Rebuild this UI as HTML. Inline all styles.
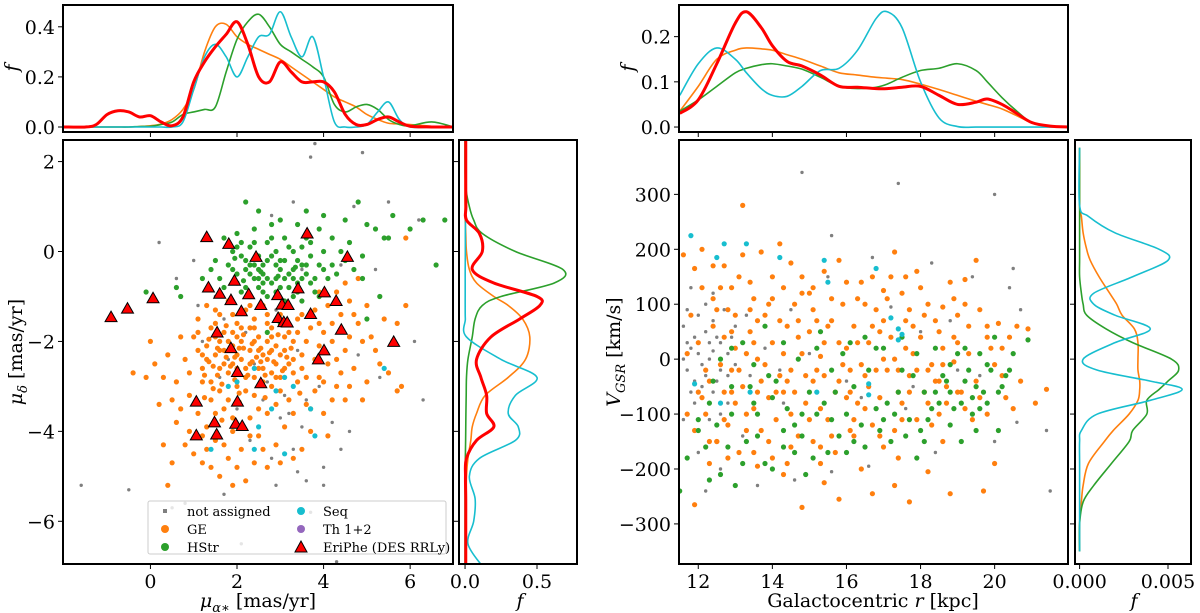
<!DOCTYPE html>
<html><head><meta charset="utf-8">
<style>
html,body{margin:0;padding:0;background:#fff;}
svg{display:block;font-family:"DejaVu Serif","Liberation Serif",serif;}
</style></head>
<body>
<svg id="chart" width="1200" height="613" viewBox="0 0 1200 613" xmlns="http://www.w3.org/2000/svg"></svg>
<script>
// ---------- DATA ----------
const kdeLXgrid = [-2,-1.5,-1.25,-1,-0.75,-0.5,-0.25,0,0.25,0.5,0.75,1,1.25,1.5,1.75,2,2.25,2.5,2.75,3,3.25,3.5,3.75,4,4.25,4.5,4.75,5,5.25,5.5,5.75,6,6.5,7];
const kdeLXred   = [0,0,0.01,0.05,0.065,0.06,0.04,0.045,0.02,0.005,0.04,0.18,0.26,0.32,0.37,0.42,0.33,0.2,0.18,0.26,0.22,0.18,0.18,0.18,0.14,0.05,0.01,0.01,0.03,0.04,0.02,0.003,0,0];
const kdeLXorange= [0,0,0,0,0,0,0.002,0.005,0.012,0.03,0.07,0.15,0.3,0.4,0.41,0.36,0.33,0.31,0.29,0.27,0.24,0.21,0.18,0.15,0.12,0.1,0.08,0.05,0.03,0.015,0.012,0.01,0.003,0];
const kdeLXgreen = [0,0,0,0,0,0,0.002,0.003,0.01,0.02,0.05,0.06,0.07,0.08,0.22,0.35,0.42,0.45,0.4,0.33,0.3,0.27,0.24,0.2,0.09,0.06,0.08,0.09,0.07,0.03,0.01,0.005,0.02,0];
const kdeLXcyan  = [0,0,0,0,0,0,0,0,0,0,0.02,0.15,0.28,0.33,0.28,0.2,0.28,0.36,0.37,0.46,0.36,0.28,0.36,0.2,0.02,0,0,0.01,0.06,0.1,0.03,0,0,0];
const kdeLYgrid  = [2.5,1.5,1.0,0.7,0.4,0.0,-0.4,-0.7,-1.0,-1.2,-1.5,-1.9,-2.4,-2.8,-3.2,-3.6,-3.9,-4.2,-4.6,-5.0,-5.5,-6.0,-6.5,-7.0];
const kdeLYred   = [0.005,0.005,0.006,0.01,0.1,0.12,0.05,0.2,0.5,0.52,0.38,0.18,0.08,0.11,0.15,0.15,0.2,0.08,0.01,0.003,0.005,0.005,0.005,0.005];
const kdeLYgreen = [0,0.003,0.03,0.06,0.12,0.35,0.68,0.62,0.25,0.12,0.07,0.05,0.02,0.01,0.008,0.006,0.005,0.004,0.002,0,0,0,0,0];
const kdeLYorange= [0,0,0,0.001,0.005,0.01,0.03,0.08,0.2,0.3,0.4,0.45,0.42,0.3,0.14,0.08,0.05,0.04,0.02,0.01,0.008,0.005,0.005,0.005];
const kdeLYcyan  = [0.003,0.003,0.003,0.003,0.002,0.002,0.001,0.001,0.001,0.001,0.002,0.01,0.25,0.5,0.35,0.3,0.37,0.35,0.1,0.03,0.07,0.06,0.02,0.12];
const kdeRXgrid  = [11.5,12,12.5,13,13.3,13.7,14,14.4,14.8,15.3,15.8,16.3,16.8,17.1,17.5,18,18.5,19,19.5,19.8,20.2,20.6,21,21.5,22];
const kdeRXred   = [0.03,0.06,0.14,0.23,0.255,0.22,0.18,0.145,0.135,0.115,0.09,0.088,0.085,0.085,0.088,0.09,0.07,0.05,0.055,0.062,0.05,0.03,0.01,0.002,0];
const kdeRXorange= [0.035,0.09,0.15,0.17,0.175,0.173,0.17,0.16,0.15,0.135,0.12,0.115,0.11,0.108,0.105,0.095,0.083,0.07,0.057,0.05,0.04,0.025,0.01,0.002,0];
const kdeRXgreen = [0.035,0.06,0.09,0.12,0.13,0.138,0.14,0.135,0.128,0.11,0.09,0.085,0.088,0.095,0.11,0.125,0.13,0.14,0.125,0.1,0.065,0.035,0.01,0.002,0];
const kdeRXcyan  = [0.07,0.14,0.175,0.15,0.12,0.085,0.07,0.068,0.09,0.125,0.13,0.17,0.24,0.255,0.22,0.1,0.02,0.001,0,0,0,0,0,0,0];
const kdeRYgrid  = [385,280,260,230,200,180,150,120,100,80,55,30,0,-20,-40,-55,-75,-100,-130,-150,-190,-230,-260,-300,-350];
const kdeRYcyan  = [0,0,0.0005,0.002,0.0045,0.005,0.003,0.0008,0.0008,0.002,0.004,0.002,0.0002,0.001,0.004,0.0058,0.004,0.001,0.0001,0,0,0,0,0,0];
const kdeRYorange= [0,0,0.0001,0.0002,0.0004,0.0006,0.0011,0.0017,0.0021,0.0024,0.0031,0.0033,0.0033,0.0033,0.0034,0.0034,0.0033,0.0028,0.0019,0.0014,0.0005,0.0002,0.0001,0,0];
const kdeRYgreen = [0,0,0,0,0,0,0,0.0001,0.0002,0.0004,0.0015,0.003,0.0052,0.0056,0.005,0.0045,0.0038,0.0038,0.003,0.0028,0.0018,0.0008,0.0002,0,0];

const leftOrange = [[1.0,-1.9],[1.3,-2.1],[1.5,-2.3],[1.7,-1.8],[1.9,-2.5],[2.1,-2.0],[2.3,-2.2],[2.5,-1.9],[2.7,-2.4],[2.9,-2.1],[3.1,-2.6],[3.3,-2.0],[3.5,-2.3],[3.7,-1.7],[3.9,-2.8],[4.1,-2.5],[4.3,-3.0],[4.5,-2.2],[4.8,-1.6],[5.0,-2.9],
[1.2,-2.6],[1.4,-2.9],[1.6,-3.1],[1.8,-2.7],[2.0,-3.0],[2.2,-2.8],[2.4,-3.2],[2.6,-2.6],[2.8,-3.0],[3.0,-2.8],[3.2,-3.3],[3.4,-2.9],[3.6,-3.4],[3.8,-3.1],[4.0,-3.6],[0.8,-2.4],[0.6,-2.9],[0.9,-3.2],[1.1,-3.6],[1.3,-3.9],
[1.5,-4.2],[1.7,-3.5],[1.9,-4.0],[2.1,-4.4],[2.3,-3.7],[2.5,-4.1],[2.7,-3.6],[2.9,-4.3],[3.1,-3.9],[3.3,-4.6],[1.0,-4.5],[1.4,-4.8],[1.8,-4.6],[2.2,-5.1],[0.5,-4.7],[0.4,-5.2],[0.6,-3.8],[0.3,-4.3],[0.2,-3.4],[-0.4,-2.7],
[-0.1,-2.8],[0.0,-2.0],[0.4,-2.3],[0.7,-1.9],[1.1,-1.5],[1.3,-1.2],[1.6,-1.4],[1.8,-1.1],[2.0,-1.6],[2.2,-1.3],[2.4,-1.5],[2.6,-1.2],[2.8,-1.7],[3.0,-1.4],[3.2,-1.8],[3.4,-1.5],[3.6,-2.0],[3.8,-1.3],[4.0,-1.8],[4.2,-2.0],
[4.4,-1.4],[4.6,-1.1],[4.8,-0.6],[4.7,-2.6],[4.9,-3.3],[5.2,-2.2],[5.4,-1.5],[5.5,-2.7],[5.7,-3.1],[5.9,-1.2],[5.9,0.3],[5.7,-1.6],[5.0,-1.2],[4.5,-0.7],[3.9,-0.9],[1.5,-1.9],[1.7,-2.2],[1.9,-1.8],[2.1,-2.4],[2.3,-1.7],
[2.5,-2.6],[2.7,-2.0],[2.9,-2.5],[3.1,-2.2],[3.3,-2.7],[1.2,-2.3],[1.4,-1.7],[1.6,-2.6],[1.8,-2.0],[2.0,-2.3],[2.2,-2.6],[2.4,-2.0],[2.6,-2.3],[2.8,-2.7],[3.0,-2.3],[2.0,-1.9],[2.4,-2.8],[1.6,-2.0],[2.8,-1.9],[3.5,-2.6],
[3.9,-2.1],[4.3,-2.4],[3.7,-3.5],[4.2,-3.3],[4.6,-3.0],[1.2,-4.1],[2.6,-4.4],[3.0,-4.7],[2.4,-4.7],[1.9,-5.2],[1.35,-2.45],[1.75,-2.35],[2.15,-2.15],[2.55,-2.15],[1.55,-2.75],[1.95,-2.85],[2.35,-2.45],[1.25,-3.25],[1.65,-3.75],[2.05,-3.35],
[1.1,-1.8],[1.3,-2.4],[1.5,-1.6],[1.7,-2.5],[1.9,-2.1],[2.1,-1.7],[2.3,-2.5],[2.5,-2.2],[2.7,-1.6],[2.9,-2.8],[3.1,-1.9],[3.3,-2.4],[1.2,-2.9],[1.4,-3.3],[1.6,-2.2],[1.8,-3.3],[2.0,-2.6],[2.2,-3.1],[2.4,-1.7],[2.6,-2.9],[2.8,-2.2],[3.0,-3.1],[3.2,-2.5],[3.4,-1.8],[3.6,-2.8],[3.8,-2.4],[4.0,-2.9],[4.2,-1.6],[4.4,-2.7],[4.6,-1.9],
[0.9,-2.7],[0.7,-3.5],[0.9,-4.0],[1.3,-4.4],[1.7,-4.3],[2.1,-3.9],[2.5,-3.5],[2.9,-3.4],[3.3,-3.6],[1.5,-3.6],[1.9,-3.7],[2.3,-4.1],[1.1,-2.2],[1.5,-1.3],[1.9,-1.4],[2.3,-1.2],[2.7,-1.4],[3.1,-1.6],[3.5,-1.4],[3.9,-1.6],
[4.1,-1.2],[4.3,-0.9],[4.7,-1.4],[5.1,-1.9],[5.3,-2.5],[5.6,-2.0],[5.8,-3.0],[4.9,-2.0],[4.5,-3.3],[4.1,-4.1],[3.7,-4.0],[3.5,-4.4],[2.7,-4.8],[2.0,-4.8],[1.6,-5.0],[1.2,-4.7],[0.8,-4.3],[0.5,-3.3],[0.3,-2.8],[0.1,-2.5],
[1.35,-1.95],[1.55,-2.15],[1.75,-1.65],[1.95,-2.35],[2.15,-1.85],[2.35,-2.05],[2.55,-2.45],[2.75,-2.25],[2.95,-1.85],[3.15,-2.35],[1.45,-2.55],[1.65,-2.95],[1.85,-2.55],[2.05,-2.15],[2.25,-2.75],[2.45,-2.35],[2.65,-2.75],[2.85,-2.45],[3.05,-2.65],[3.25,-2.15],[1.25,-2.75],[2.05,-3.15],[2.65,-3.25],[1.45,-3.05],[3.45,-3.15]];
const leftGreen = [[1.8,-0.3],[2.0,-0.5],[2.2,-0.2],[2.4,-0.6],[2.6,-0.3],[2.8,-0.7],[3.0,-0.4],[3.2,-0.8],[3.4,-0.2],[3.6,-0.5],[3.8,-0.9],[2.1,-0.9],[2.3,-1.0],[2.5,-0.8],[2.7,-1.0],[2.9,-0.9],[3.1,-1.1],[3.3,-1.0],[3.5,-1.1],[3.7,-0.7],
[1.9,0.0],[2.1,0.2],[2.3,0.1],[2.5,-0.1],[2.7,0.2],[2.9,0.0],[3.1,0.3],[3.3,0.0],[3.5,0.1],[3.7,0.2],[4.0,0.0],[4.2,-0.3],[4.4,0.0],[2.0,0.4],[2.4,0.5],[2.8,0.6],[3.4,0.6],[4.0,0.8],[4.5,0.7],[4.8,1.1],
[5.0,0.6],[5.2,0.5],[5.4,0.3],[6.3,0.7],[6.8,0.7],[6.6,-0.3],[5.3,-1.0],[4.9,-0.1],[4.7,-0.4],[4.6,0.2],[1.6,-0.6],[1.5,-0.2],[1.2,-0.6],[0.6,-0.8],[-0.1,-0.9],[0.7,-1.0],[2.2,1.1],[3.6,0.9],[4.1,-0.6],[3.9,-0.3],
[2.6,-0.5],[3.0,-0.2],[2.4,-0.3],[3.2,-0.5],[2.8,-0.1],[2.0,-0.7],[3.4,-0.7],[2.2,-0.4],[3.6,-0.3],[2.6,-0.9],[5.0,-1.5],[3.0,-1.6],[2.7,-1.8],[4.9,-0.6],[5.5,0.3],[2.15,-0.65],[2.55,-0.45],[2.95,-0.55],[3.35,-0.35],[1.95,-0.15],
[1.9,-0.4],[2.1,-0.1],[2.3,-0.5],[2.5,-0.4],[2.7,-0.6],[2.9,-0.3],[3.1,-0.6],[3.3,-0.4],[3.5,-0.6],[3.7,-0.1],[2.2,-0.8],[2.6,-0.7],[3.0,-0.8],[3.4,-0.9],[3.8,-0.6],[4.0,-0.4],[4.3,-0.5],[2.0,0.1],[2.4,0.2],[2.8,0.3],
[3.2,0.1],[3.6,0.3],[4.2,0.3],[4.5,-0.2],[1.7,-0.8],[1.4,-0.4],[2.5,0.9],[3.0,0.7],[3.9,0.5],[5.6,0.8],[6.0,0.5],[1.7,0.3],[2.3,-0.3],[2.7,-0.2],[3.1,-0.2],[3.5,-0.3],[2.9,-0.6],[2.5,-0.6],[3.3,-0.6],[3.9,-1.0]];
const leftGray = [[3.8,2.4],[3.7,2.1],[4.9,2.2],[0.2,0.2],[3.3,1.1],[4.7,1.0],[5.5,1.1],[6.2,0.7],[1.0,-0.2],[0.6,-0.6],[2.8,0.8],[1.7,-1.5],[1.2,-2.0],[1.0,-1.9],[2.4,-2.5],[2.6,-3.3],[3.2,-3.6],[3.6,-3.3],[3.0,-3.7],[4.2,-3.8],
[4.6,-4.0],[2.3,-4.2],[2.8,-4.6],[3.3,-4.4],[4.0,-4.8],[3.6,-5.1],[2.9,-5.2],[4.0,-5.2],[3.7,-5.8],[1.7,-5.4],[-1.6,-5.2],[-0.5,-5.3],[0.8,-5.6],[0.5,-5.7],[2.1,-6.5],[4.3,-6.9],[6.3,-3.3],[6.1,-2.0],[5.3,-2.8],[4.8,-2.3],
[3.4,-2.2],[2.2,-1.8],[1.6,-2.8],[2.0,-3.5],[3.5,-0.4],[2.9,-1.3],[4.4,-0.3],[1.5,-1.0],[1.1,-1.2],[5.2,-0.4],[2.7,-2.9],[3.1,-3.2],[3.5,-3.9],[2.5,-3.0],[1.8,-2.4],[3.9,-3.0],[4.4,-4.4],[3.4,-4.9]];
const leftCyan = [[2.4,-2.6],[3.1,-2.8],[2.9,-3.1],[3.3,-3.0],[2.8,-3.5],[3.7,-3.5],[3.8,-4.1],[2.4,-4.4],[3.1,-4.5],[2.5,-3.9],[5.4,-2.6],[1.4,-4.4],[1.8,-3.0],[2.0,-2.9],[3.2,-7.0]];
const eriPhe = [[-0.91,-1.46],[-0.53,-1.27],[0.06,-1.04],[1.30,0.32],[1.81,0.17],[2.44,-0.12],[1.94,-0.65],[1.34,-0.80],[1.60,-0.94],[1.86,-1.08],[2.27,-0.95],[2.10,-1.33],[2.55,-1.19],[1.54,-1.80],[1.86,-2.15],[2.01,-2.68],[2.55,-2.93],[1.06,-3.34],[2.01,-3.34],[1.48,-3.80],
[1.53,-4.07],[1.06,-4.09],[1.97,-3.83],[2.12,-3.88],[3.62,0.40],[4.55,-0.12],[3.41,-0.82],[4.02,-0.91],[4.29,-1.10],[2.94,-0.97],[3.04,-1.18],[3.18,-1.19],[3.70,-1.39],[2.95,-1.48],[3.08,-1.57],[3.16,-1.58],[4.41,-1.74],[4.01,-2.20],[3.88,-2.40],[5.62,-2.01]];

const rightOrange = [[11.6,190],[11.9,165],[12.1,200],[12.4,110],[12.7,170],[13.0,80],[13.2,280],[13.4,140],[13.7,195],[14.0,150],[14.2,210],[14.5,175],[14.8,120],[15.1,90],[15.4,160],[15.8,180],[16.0,140],[16.3,110],[16.7,150],[17.0,125],
[17.3,195],[17.6,150],[17.9,160],[18.2,100],[18.6,95],[19.0,80],[19.2,145],[19.5,180],[19.8,60],[20.1,65],[20.4,40],[20.9,55],[21.4,-55],[21.1,-80],[20.7,-40],[20.5,-90],[20.0,-190],[19.7,-240],[18.8,-245],[18.2,-205],
[17.7,-260],[17.3,-230],[16.7,-245],[15.8,-255],[15.4,-225],[14.8,-270],[14.3,-210],[13.6,-195],[12.3,-190],[11.9,-265],[11.7,-100],[11.9,-130],[12.1,-70],[12.3,-40],[12.5,-150],[12.7,-110],[12.9,-60],[13.1,-20],[13.3,-130],[13.5,-90],
[13.7,-40],[13.9,-150],[14.1,-110],[14.3,-60],[14.5,-20],[14.7,-140],[14.9,-80],[15.1,-40],[15.3,-160],[15.5,-110],[15.7,-60],[15.9,-10],[16.1,-130],[16.3,-80],[16.5,-30],[16.7,-120],[16.9,-70],[17.1,-20],[17.3,-130],[17.5,-80],
[17.7,-30],[17.9,-110],[18.1,-60],[18.3,-10],[18.5,-100],[18.7,-50],[18.9,-5],[19.2,-90],[19.5,-40],[19.8,-100],[12.0,30],[12.4,60],[12.6,-10],[12.8,90],[13.0,20],[13.2,-50],[13.4,50],[13.6,0],[13.8,80],[14.0,30],
[14.2,-30],[14.4,60],[14.6,100],[14.8,10],[15.0,50],[15.2,-20],[15.4,30],[15.6,70],[15.8,-40],[16.0,20],[16.2,60],[16.4,-10],[16.6,30],[16.8,90],[17.0,0],[17.2,40],[17.4,-20],[17.6,70],[17.8,10],[18.0,40],
[18.2,-20],[18.4,70],[18.6,20],[18.9,40],[19.3,10],[19.6,90],[20.0,-10],[20.3,-70],[12.9,130],[13.5,110],[14.3,130],[15.0,120],[16.5,100],[17.5,120],[13.1,-170],[14.0,-180],[15.1,-150],[16.2,-140],[17.0,-160],[12.5,-150],
[12.2,-100],[12.9,-20],[13.3,10],[13.9,-70],[14.5,-100],[15.3,5],[16.1,-60],[16.9,50],[17.7,-60],[18.5,-40],[12.7,40],[13.6,70],[14.7,40],[15.6,-140],[19.0,-60],
[11.8,80],[12.1,130],[12.3,-150],[12.5,90],[12.7,-60],[12.9,50],[13.1,150],[13.3,-100],[13.5,30],[13.7,-130],[13.9,100],[14.1,-60],[14.3,10],[14.5,-160],[14.7,70],[14.9,-30],[15.1,130],[15.3,-90],[15.5,60],[15.7,-170],
[15.9,100],[16.1,-20],[16.3,30],[16.5,-90],[16.7,60],[16.9,-140],[17.1,110],[17.3,0],[17.5,-110],[17.7,90],[17.9,-20],[18.1,80],[18.3,-120],[18.5,50],[18.7,-80],[18.9,110],[19.1,-60],[19.3,60],[19.6,-70],[19.9,20],
[20.2,-30],[20.6,60],[11.7,10],[12.0,-60],[12.2,-20],[12.6,130],[13.0,-80],[13.4,90],[13.8,-10],[14.2,70],[14.6,-60],[15.0,-110],[15.4,-30],[15.8,30],[16.2,-110],[16.6,-50],[17.0,70],[17.4,-60],[17.8,60],[18.2,-80],
[18.6,-10],[19.0,30],[19.4,-110],[19.8,40],[20.2,20],[12.8,-120],[13.6,-60],[14.4,-40],[15.2,70],[16.0,-70],[16.8,-20],[17.6,20],[18.4,-40],[19.2,100],[12.4,170],[13.2,190],[14.0,110],[14.8,150],[15.6,110],[16.4,140],
[17.2,150],[18.0,130],[18.8,140],[13.5,-170],[14.4,-190],[15.3,-190],[16.4,-200],[17.4,-180],[18.6,-150],[12.8,-180]];
const rightGreen = [[11.5,-240],[11.7,-180],[12.0,-130],[12.3,-220],[12.6,-210],[12.8,-160],[13.0,-230],[13.3,-150],[13.5,-80],[13.8,-190],[14.0,-200],[14.3,-130],[14.6,-170],[14.9,-210],[15.2,-100],[15.5,-170],[15.8,-140],[16.2,-150],[16.5,-160],[16.9,-130],
[17.2,-150],[17.6,-140],[17.9,-180],[18.2,-110],[18.5,-80],[18.8,-60],[19.1,-150],[19.4,-100],[19.6,-90],[20.1,-130],[20.3,-30],[20.5,10],[20.9,35],[20.0,40],[19.8,-10],[19.5,-50],[19.3,-20],[19.0,10],[18.7,-40],[18.4,20],
[18.1,-60],[17.8,-30],[17.5,40],[17.1,-80],[16.8,20],[16.5,40],[16.2,-50],[15.9,10],[15.6,-20],[15.3,50],[15.0,-60],[14.7,0],[14.4,-90],[14.1,-40],[13.8,60],[13.5,-10],[13.2,30],[12.9,-50],[12.6,0],[12.3,-80],
[12.0,-110],[19.7,-60],[19.9,-20],[19.2,-40],[18.9,-90],[18.6,-30],[20.2,-50],[19.4,-70],[13.6,-100],[14.6,-120],[16.0,-100],[17.0,-110],[18.0,-130],[15.4,-80],[17.4,-60],
[12.2,-160],[12.5,-120],[12.9,-100],[13.2,-190],[13.6,-140],[14.0,-70],[14.3,-160],[14.8,-140],[15.1,-180],[15.6,-110],[16.0,-170],[16.4,-120],[16.8,-90],[17.3,-100],[17.7,-110],[18.1,-150],[18.4,-60],[18.8,-120],[19.1,-80],[19.5,-130],
[19.8,-80],[20.1,-60],[20.4,-20],[19.6,10],[19.2,20],[18.8,-10],[18.3,-90],[17.9,10],[17.5,-20],[17.0,20],[16.6,-20],[16.1,30],[15.7,-60],[15.2,20],[14.8,-100],[14.3,30],[13.9,-30],[13.4,-50],[12.9,20],[12.4,-40]];
const rightGray = [[11.6,60],[11.8,20],[11.9,-40],[12.0,80],[12.1,-10],[12.2,50],[12.3,0],[12.4,-60],[12.5,40],[12.6,-20],[12.7,90],[11.7,-20],[11.8,130],[12.0,-170],[12.2,-240],[12.4,120],[12.6,-100],[12.8,10],[13.0,60],[13.2,-140],
[11.6,-110],[11.9,40],[12.3,30],[12.9,-60],[13.4,-30],[14.8,340],[17.4,320],[20.0,300],[15.6,225],[16.7,185],[18.3,175],[20.5,165],[20.4,130],[21.4,-130],[21.5,-240],[20.6,-115],[20.0,-150],[18.4,-170],[16.6,-195],[15.6,-205],
[14.5,90],[15.5,150],[17.2,95],[18.0,50],[19.4,150],[20.7,90],[14.2,-20],[16.0,-40],[17.8,-50],[19.0,-20],[13.6,-230],[14.6,-220],[12.6,-200],[11.7,30],[12.1,-50],[12.4,15],[12.8,-30],[12.2,100],[11.9,-80],
[11.6,0],[11.8,-60],[12.0,10],[12.2,-30],[12.4,70],[12.6,30],[12.8,-80],[13.0,-10],[11.7,90],[12.3,-110],[12.5,-40],[12.9,40],[13.3,80],[13.8,20],[14.3,-80],[15.0,10],[16.4,-70],[17.6,-90],[18.8,70],[19.6,-30]];
const rightCyan = [[11.8,225],[12.5,185],[12.7,210],[13.3,210],[14.2,185],[15.4,180],[15.5,140],[16.8,165],[17.2,75],[17.4,55],[17.5,45],[17.4,35],[16.6,-45],[16.6,-65],[11.9,-45],[12.6,-80],[13.4,-60],[15.2,-60]];

const ticksLX = [0,2,4,6], ticksLY = [2,0,-2,-4,-6], ticksLTop = [0.0,0.2,0.4], ticksLMarg = [0.0,0.5];
const ticksRX = [12,14,16,18,20], ticksRY = [300,200,100,0,-100,-200,-300], ticksRTop = [0.0,0.1,0.2], ticksRMarg = [0.000,0.005];

// ---------- DRAWING ----------
const NS = "http://www.w3.org/2000/svg";
const svg = document.getElementById('chart');
const C = {orange:'#ff7f0e', green:'#2ca02c', gray:'#7f7f7f', cyan:'#17becf', purple:'#9467bd', red:'#ff0000'};
let clipN = 0;
function mk(tag, attrs, parent){ const e=document.createElementNS(NS,tag); for(const k in attrs) e.setAttribute(k,attrs[k]); (parent||svg).appendChild(e); return e; }
function fmtNum(v, d){ const s=Math.abs(v).toFixed(d); return (v<0?'\u2212':'')+s; }
function panel(name, x0,y0,x1,y1, xmin,xmax,ymin,ymax){
  const g = mk('g',{});
  
  
  const id='clip'+(clipN++);
  const cp = mk('clipPath',{id:id}, g); mk('rect',{x:x0,y:y0,width:x1-x0,height:y1-y0},cp);
  const inner = mk('g',{'clip-path':'url(#'+id+')'}, g);
  const sx = v => x0 + (v-xmin)/(xmax-xmin)*(x1-x0);
  const sy = v => y1 - (v-ymin)/(ymax-ymin)*(y1-y0);
  return {g, inner, sx, sy, x0,y0,x1,y1};
}
function frame(p){ const r=mk('rect',{x:p.x0,y:p.y0,width:p.x1-p.x0,height:p.y1-p.y0,fill:'none',stroke:'#000','stroke-width':2},p.g);
  
   }
function xTicks(p, ticks, dec, labels){
  ticks.forEach(t=>{ const x=p.sx(t); mk('line',{x1:x,x2:x,y1:p.y1,y2:p.y1+5,stroke:'#000','stroke-width':1},p.g);
    if(labels){ const tx=mk('text',{x:x,y:p.y1+24,'text-anchor':'middle','font-size':19,fill:'#000'},p.g); tx.textContent=fmtNum(t,dec);
      
       } });
}
function yTicks(p, ticks, dec, labels){
  ticks.forEach(t=>{ const y=p.sy(t); mk('line',{x1:p.x0-5,x2:p.x0,y1:y,y2:y,stroke:'#000','stroke-width':1},p.g);
    if(labels){ const tx=mk('text',{x:p.x0-8,y:y+7,'text-anchor':'end','font-size':19,fill:'#000'},p.g); tx.textContent=fmtNum(t,dec);
      
       } });
}
function smooth(pts){
  let d='M'+pts[0][0].toFixed(2)+','+pts[0][1].toFixed(2);
  for(let i=0;i<pts.length-1;i++){
    const p0=pts[Math.max(0,i-1)], p1=pts[i], p2=pts[i+1], p3=pts[Math.min(pts.length-1,i+2)];
    const c1=[p1[0]+(p2[0]-p0[0])/6, p1[1]+(p2[1]-p0[1])/6], c2=[p2[0]-(p3[0]-p1[0])/6, p2[1]-(p3[1]-p1[1])/6];
    d+='C'+c1[0].toFixed(2)+','+c1[1].toFixed(2)+' '+c2[0].toFixed(2)+','+c2[1].toFixed(2)+' '+p2[0].toFixed(2)+','+p2[1].toFixed(2);
  }
  return d;
}
function kdeH(p, grid, vals, color, w, name){ const pts=grid.map((g,i)=>[p.sx(g),p.sy(vals[i])]);
  const e=mk('path',{d:smooth(pts),fill:'none',stroke:color,'stroke-width':w,'stroke-linejoin':'round'},p.inner);
  
   }
function kdeV(p, grid, vals, color, w, name){ const pts=grid.map((g,i)=>[p.sx(vals[i]),p.sy(g)]);
  const e=mk('path',{d:smooth(pts),fill:'none',stroke:color,'stroke-width':w,'stroke-linejoin':'round'},p.inner);
  
   }
function dots(p, arr, color, r, name){ const g=mk('g',{},p.inner);
  
  
  arr.forEach(d=>{ mk('circle',{cx:p.sx(d[0]).toFixed(1),cy:p.sy(d[1]).toFixed(1),r:r,fill:color},g); }); }
function tris(p, arr, name){ const g=mk('g',{},p.inner);
  
  
  arr.forEach(d=>{ const x=p.sx(d[0]), y=p.sy(d[1]); mk('polygon',{points:`${x},${y-6} ${x-6},${y+4.5} ${x+6},${y+4.5}`,fill:C.red,stroke:'#000','stroke-width':1},g); }); }
function label(x,y,txt,rot,name,italic){ const t=mk('text',{x:x,y:y,'text-anchor':'middle','font-size':19,fill:'#000'});
  if(rot) t.setAttribute('transform',`rotate(-90 ${x} ${y})`); if(italic) t.setAttribute('font-style','italic');
  t.innerHTML=txt;
  
   return t; }

const pLT = panel('left-top-kde', 63,5,453,132, -2.02,6.99,-0.02,0.487);
kdeH(pLT,kdeLXgrid,kdeLXorange,C.orange,1.6,'kde-ge'); kdeH(pLT,kdeLXgrid,kdeLXgreen,C.green,1.6,'kde-hstr');
kdeH(pLT,kdeLXgrid,kdeLXcyan,C.cyan,1.6,'kde-seq'); kdeH(pLT,kdeLXgrid,kdeLXred,C.red,3,'kde-eriphe');
frame(pLT); xTicks(pLT,ticksLX,0,false); yTicks(pLT,ticksLTop,1,true);
const pLM = panel('left-scatter', 63,140,453,564, -2.02,6.99,-6.95,2.48);
dots(pLM,leftGray,C.gray,1.7,'points-not-assigned'); dots(pLM,leftOrange,C.orange,2.6,'points-ge');
dots(pLM,leftGreen,C.green,2.6,'points-hstr'); dots(pLM,leftCyan,C.cyan,2.6,'points-seq'); tris(pLM,eriPhe,'points-eriphe');
frame(pLM); xTicks(pLM,ticksLX,0,true); yTicks(pLM,ticksLY,0,true);
const pLR = panel('left-marginal-kde', 459,140,577,564, -0.042,0.778,-6.95,2.48);
kdeV(pLR,kdeLYgrid,kdeLYorange,C.orange,1.6,'kde-ge'); kdeV(pLR,kdeLYgrid,kdeLYgreen,C.green,1.6,'kde-hstr');
kdeV(pLR,kdeLYgrid,kdeLYcyan,C.cyan,1.6,'kde-seq'); kdeV(pLR,kdeLYgrid,kdeLYred,C.red,3,'kde-eriphe');
frame(pLR); xTicks(pLR,ticksLMarg,1,true); yTicks(pLR,ticksLY,0,false);

const pRT = panel('right-top-kde', 679,5,1068,132, 11.48,21.98,-0.011,0.27);
kdeH(pRT,kdeRXgrid,kdeRXorange,C.orange,1.6,'kde-ge'); kdeH(pRT,kdeRXgrid,kdeRXgreen,C.green,1.6,'kde-hstr');
kdeH(pRT,kdeRXgrid,kdeRXcyan,C.cyan,1.6,'kde-seq'); kdeH(pRT,kdeRXgrid,kdeRXred,C.red,3,'kde-eriphe');
frame(pRT); xTicks(pRT,ticksRX,0,false); yTicks(pRT,ticksRTop,1,true);
const pRM = panel('right-scatter', 679,140,1068,564, 11.48,21.98,-373,399);
dots(pRM,rightGray,C.gray,1.7,'points-not-assigned'); dots(pRM,rightOrange,C.orange,2.6,'points-ge');
dots(pRM,rightGreen,C.green,2.6,'points-hstr'); dots(pRM,rightCyan,C.cyan,2.6,'points-seq');
frame(pRM); xTicks(pRM,ticksRX,0,true); yTicks(pRM,ticksRY,0,true);
const pRR = panel('right-marginal-kde', 1075,140,1191,564, -0.00026,0.0063,-373,399);
kdeV(pRR,kdeRYgrid,kdeRYorange,C.orange,1.6,'kde-ge'); kdeV(pRR,kdeRYgrid,kdeRYgreen,C.green,1.6,'kde-hstr');
kdeV(pRR,kdeRYgrid,kdeRYcyan,C.cyan,1.6,'kde-seq');
frame(pRR); xTicks(pRR,ticksRMarg,3,true); yTicks(pRR,ticksRY,0,false);

label(18,68,'f',true,'left-top-y-title',true);
label(22,352,'<tspan font-style="italic">μ</tspan><tspan font-size="13" dy="5" font-style="italic">δ</tspan><tspan dy="-5"> [mas/yr]</tspan>',true,'left-y-axis-title');
label(258,607,'<tspan font-style="italic">μ</tspan><tspan font-size="13" dy="5" font-style="italic">α∗</tspan><tspan dy="-5"> [mas/yr]</tspan>',false,'left-x-axis-title');
label(520,607,'f',false,'left-marginal-x-title',true);
label(634,68,'f',true,'right-top-y-title',true);
label(620,352,'<tspan font-style="italic">V</tspan><tspan font-size="13" dy="5" font-style="italic">GSR</tspan><tspan dy="-5"> [km/s]</tspan>',true,'right-y-axis-title');
label(873,607,'Galactocentric <tspan font-style="italic">r</tspan> [kpc]',false,'right-x-axis-title');
label(1134,607,'f',false,'right-marginal-x-title',true);

const lg = mk('g',{});


mk('rect',{x:148,y:501,width:298,height:53,fill:'#fff','fill-opacity':0.8,stroke:'#ccc','stroke-width':1,rx:2},lg);
const legendItems = [['not assigned',C.gray,'sq',165,511],['GE',C.orange,'c',165,529],['HStr',C.green,'c',165,547],['Seq',C.cyan,'c',301,511],['Th 1+2',C.purple,'c',301,529],['EriPhe (DES RRLy)',C.red,'t',301,547]];
legendItems.forEach(it=>{
  const e = mk('g',{},lg);
  
  
  const [t,c,k,x,y]=it;
  if(k==='sq') mk('rect',{x:x-2,y:y-2,width:4,height:4,fill:c},e);
  else if(k==='c') mk('circle',{cx:x,cy:y,r:4,fill:c},e);
  else mk('polygon',{points:`${x},${y-6} ${x-6},${y+5} ${x+6},${y+5}`,fill:c,stroke:'#000','stroke-width':1},e);
  const tx=mk('text',{x:x+22,y:y+5,'font-size':13,fill:'#000'},e); tx.textContent=t;
});
</script>
</body></html>
